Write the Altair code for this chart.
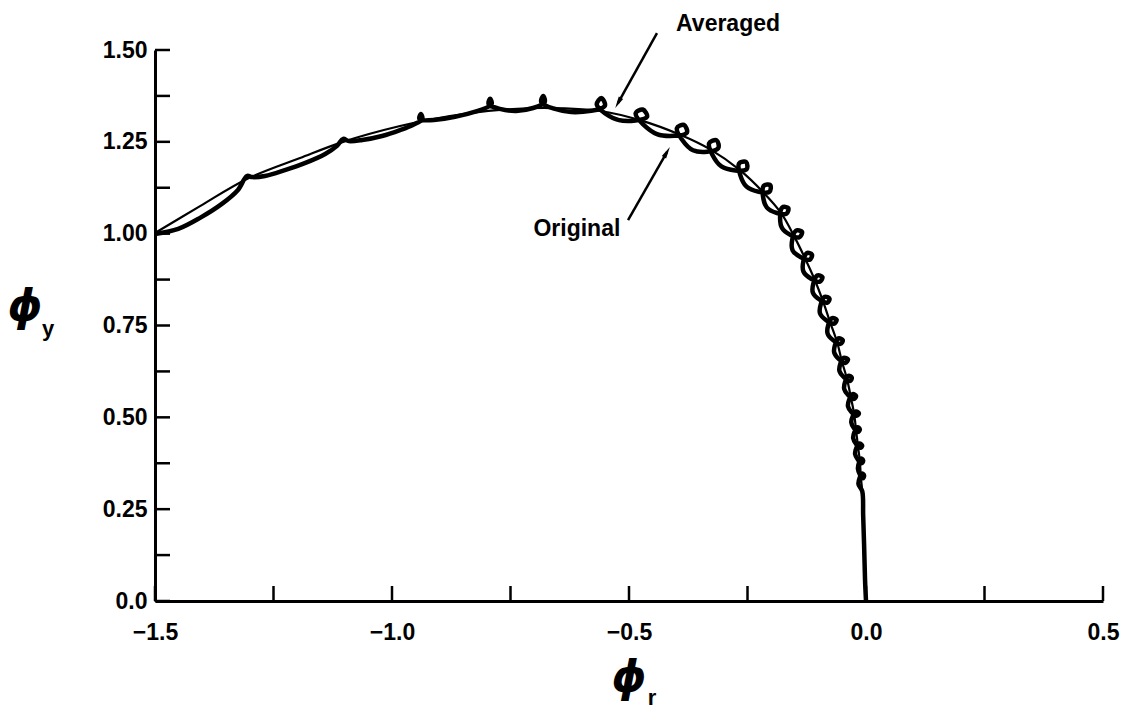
import altair as alt
import pandas as pd

# ---------------- data ----------------
# Averaged (smooth) locus
avg_x = [-1.500, -1.405, -1.306, -1.194, -1.103, -0.983, -0.878, -0.772, -0.667, -0.561,
         -0.477, -0.392, -0.327, -0.266, -0.217, -0.179, -0.152, -0.129, -0.108, -0.091,
         -0.076, -0.061, -0.051, -0.040, -0.032, -0.025, -0.021, -0.017, -0.013, -0.011,
         -0.008, -0.006, -0.004, -0.002, 0.0]
avg_y = [1.002, 1.075, 1.149, 1.206, 1.250, 1.293, 1.320, 1.337, 1.342, 1.334,
         1.309, 1.269, 1.228, 1.173, 1.113, 1.056, 0.994, 0.934, 0.874, 0.817,
         0.760, 0.705, 0.653, 0.604, 0.555, 0.509, 0.466, 0.422, 0.381, 0.340,
         0.299, 0.234, 0.152, 0.057, 0.0]

# Original (looping) locus
orig_x = [-1.500, -1.451, -1.405, -1.359, -1.325, -1.306, -1.295, -1.268, -1.226, -1.184,
          -1.141, -1.116, -1.103, -1.091, -1.063, -1.021, -0.983, -0.956,
          -0.936, -0.939, -0.942, -0.867,
          -0.790, -0.793, -0.796, -0.738,
          -0.678, -0.681, -0.685, -0.622,
          -0.551, -0.558, -0.568, -0.521,
          -0.462, -0.471, -0.486, -0.441,
          -0.378, -0.384, -0.399, -0.365,
          -0.312, -0.315, -0.331, -0.305,
          -0.252, -0.253, -0.268, -0.252,
          -0.204, -0.202, -0.216, -0.209,
          -0.168, -0.164, -0.177, -0.177,
          -0.141, -0.135, -0.148, -0.155,
          -0.119, -0.114, -0.125, -0.132,
          -0.098, -0.092, -0.103, -0.112,
          -0.082, -0.077, -0.087, -0.097,
          -0.068, -0.062, -0.072, -0.081,
          -0.054, -0.049, -0.058, -0.067,
          -0.044, -0.038, -0.047, -0.056,
          -0.034, -0.030, -0.037, -0.046,
          -0.026, -0.021, -0.028, -0.038,
          -0.020, -0.015, -0.021, -0.031,
          -0.017, -0.013, -0.018, -0.027,
          -0.012, -0.008, -0.014, -0.023,
          -0.009, -0.006, -0.010, -0.017,
          -0.007, -0.004, -0.008, -0.016,
          -0.008, -0.006, -0.004, -0.002, 0.0]
orig_y = [0.999, 1.013, 1.043, 1.081, 1.119, 1.157, 1.154, 1.157, 1.173, 1.192,
          1.217, 1.239, 1.258, 1.252, 1.255, 1.266, 1.282, 1.296,
          1.312, 1.326, 1.312, 1.318,
          1.353, 1.367, 1.353, 1.334,
          1.358, 1.375, 1.358, 1.331,
          1.348, 1.369, 1.351, 1.309,
          1.318, 1.338, 1.327, 1.271,
          1.275, 1.296, 1.287, 1.227,
          1.232, 1.254, 1.246, 1.183,
          1.175, 1.195, 1.191, 1.128,
          1.114, 1.132, 1.130, 1.071,
          1.054, 1.070, 1.071, 1.015,
          0.990, 1.005, 1.008, 0.955,
          0.929, 0.943, 0.947, 0.897,
          0.869, 0.882, 0.886, 0.839,
          0.812, 0.823, 0.828, 0.783,
          0.755, 0.766, 0.770, 0.728,
          0.700, 0.710, 0.715, 0.676,
          0.648, 0.658, 0.662, 0.626,
          0.599, 0.608, 0.613, 0.577,
          0.550, 0.558, 0.563, 0.530,
          0.504, 0.511, 0.516, 0.486,
          0.460, 0.467, 0.473, 0.443,
          0.417, 0.423, 0.429, 0.400,
          0.375, 0.382, 0.388, 0.360,
          0.334, 0.341, 0.347, 0.319,
          0.299, 0.234, 0.152, 0.057, 0.0]

# axis ticks / labels
x_label_values = [-1.5, -1.0, -0.5, 0.0, 0.5]
y_label_values = [0.0, 0.25, 0.5, 0.75, 1.0, 1.25, 1.5]
x_tick_values = [-1.5, -1.25, -1.0, -0.75, -0.5, -0.25, 0.0, 0.25, 0.5]
y_tick_values = [0.0, 0.125, 0.25, 0.375, 0.5, 0.625, 0.75, 0.875, 1.0, 1.125,
                 1.25, 1.375, 1.5]

# annotations
note_text = ["Averaged", "Original"]
note_x = [-0.291, -0.610]
note_y = [1.571, 1.013]
arrow_x0 = [-0.441, -0.502]
arrow_y0 = [1.546, 1.037]
arrow_x1 = [-0.523, -0.420]
arrow_y1 = [1.356, 1.222]
arrow_angle = [209, 30]

# ---------------- chart ----------------
W, H = 948, 551
FONT = "Liberation Sans"

assert len(orig_x) == len(orig_y)
assert len(avg_x) == len(avg_y)

avg_df = pd.DataFrame({"x": avg_x, "y": avg_y, "i": list(range(len(avg_x)))})
orig_df = pd.DataFrame({"x": orig_x, "y": orig_y, "i": list(range(len(orig_x)))})
xt_df = pd.DataFrame({"x": x_tick_values})
yt_df = pd.DataFrame({"y": y_tick_values})
note_df = pd.DataFrame({"x": note_x, "y": note_y, "t": note_text})
arrow_df = pd.DataFrame({"x": arrow_x0, "y": arrow_y0, "x2": arrow_x1, "y2": arrow_y1})
head_df = pd.DataFrame({"x": arrow_x1, "y": arrow_y1, "angle": arrow_angle})

xscale = alt.Scale(domain=[-1.5, 0.5], nice=False, zero=False)
yscale = alt.Scale(domain=[0.0, 1.5], nice=False, zero=False)

common_axis = dict(ticks=False, tickSize=0, grid=False, domainColor="black",
                   domainWidth=3, labelFont=FONT, labelFontWeight="bold",
                   labelFontSize=23, labelColor="black", labelOverlap=False,
                   labelFlush=False, title=None)

xenc = alt.X("x:Q", scale=xscale,
             axis=alt.Axis(values=x_label_values, format=".1f", labelPadding=20,
                           **common_axis))
yenc = alt.Y("y:Q", scale=yscale,
             axis=alt.Axis(values=y_label_values, labelPadding=8,
                           labelExpr="datum.value == 0 ? '0.0' : format(datum.value, '.2f')",
                           **common_axis))

avg_line = alt.Chart(avg_df).mark_line(
    color="black", strokeWidth=2.2, interpolate="catmull-rom"
).encode(x=xenc, y=yenc, order=alt.Order("i:Q"))

orig_line = alt.Chart(orig_df).mark_line(
    color="black", strokeWidth=4.5, interpolate="catmull-rom", strokeJoin="round"
).encode(x=xenc, y=yenc, order=alt.Order("i:Q"))

xticks = alt.Chart(xt_df).mark_rule(color="black", strokeWidth=2.5).encode(
    x=xenc, y=alt.value(H), y2=alt.value(H - 15))
yticks = alt.Chart(yt_df).mark_rule(color="black", strokeWidth=2.5).encode(
    y=yenc, x=alt.value(0), x2=alt.value(15))

notes = alt.Chart(note_df).mark_text(
    font=FONT, fontWeight="bold", fontSize=23, color="black", align="center",
    baseline="middle"
).encode(x=xenc, y=yenc, text="t:N")

arrows = alt.Chart(arrow_df).mark_rule(color="black", strokeWidth=2.5).encode(
    x=xenc, y=yenc, x2="x2:Q", y2="y2:Q")

heads = alt.Chart(head_df).mark_point(
    shape="M0,-1L0.42,1L-0.42,1Z", filled=True, color="black", opacity=1,
    size=140
).encode(x=xenc, y=yenc, angle=alt.Angle("angle:Q", scale=None))

one = pd.DataFrame({"a": [0]})
phi_y = alt.Chart(one).mark_text(
    text="ϕ", font="DejaVu Sans", fontWeight="bold", fontStyle="italic",
    fontSize=44, color="black", align="center", baseline="middle"
).encode(x=alt.value(-130), y=alt.value(258))
sub_y = alt.Chart(one).mark_text(
    text="y", font=FONT, fontWeight="bold", fontSize=22, color="black",
    align="center", baseline="alphabetic"
).encode(x=alt.value(-107), y=alt.value(286))
phi_r = alt.Chart(one).mark_text(
    text="ϕ", font="DejaVu Sans", fontWeight="bold", fontStyle="italic",
    fontSize=44, color="black", align="center", baseline="middle"
).encode(x=alt.value(474), y=alt.value(629))
sub_r = alt.Chart(one).mark_text(
    text="r", font=FONT, fontWeight="bold", fontSize=22, color="black",
    align="center", baseline="alphabetic"
).encode(x=alt.value(497), y=alt.value(655))

chart = alt.layer(
    avg_line, orig_line, xticks, yticks, arrows, heads, notes,
    phi_y, sub_y, phi_r, sub_r
).properties(
    width=W, height=H,
    padding={"left": 147, "top": 42, "right": 28, "bottom": 109},
    autosize=alt.AutoSizeParams(type="none"),
    background="white",
).configure_view(strokeWidth=0)

chart.save("out.html", embed_options={"renderer": "svg", "actions": False})
